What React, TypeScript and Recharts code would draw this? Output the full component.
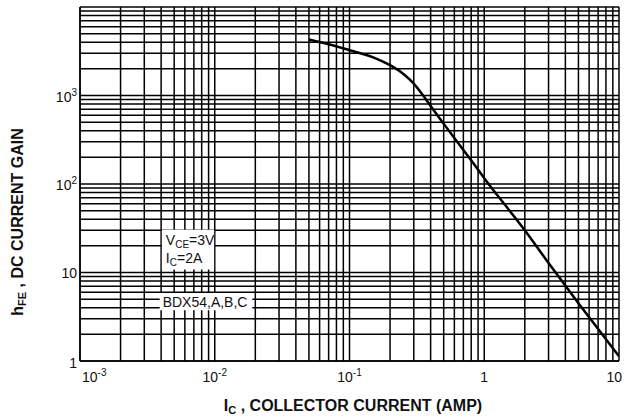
import React from "react";
import {
  LineChart,
  Line,
  XAxis,
  YAxis,
  CartesianGrid,
  ReferenceArea,
} from "recharts";

// Collector current (A) and DC current gain
const collectorCurrent = [0.05, 0.07, 0.1, 0.15, 0.2, 0.25, 0.3, 0.35, 0.4, 0.5, 0.6, 0.8, 1, 2, 3, 5, 10];
const dcGain = [4300, 3800, 3250, 2700, 2200, 1760, 1360, 1010, 760, 480, 330, 185, 116, 30, 12.8, 4.5, 1.13];

// Grid ticks (log paper): 1..9 per decade
const xTicks = [
  0.001, 0.002, 0.003, 0.004, 0.005, 0.006, 0.007, 0.008, 0.009,
  0.01, 0.02, 0.03, 0.04, 0.05, 0.06, 0.07, 0.08, 0.09,
  0.1, 0.2, 0.3, 0.4, 0.5, 0.6, 0.7, 0.8, 0.9,
  1, 2, 3, 4, 5, 6, 7, 8, 9, 10,
];
const yTicks = [
  1, 2, 3, 4, 5, 6, 7, 8, 9,
  10, 20, 30, 40, 50, 60, 70, 80, 90,
  100, 200, 300, 400, 500, 600, 700, 800, 900,
  1000, 2000, 3000, 4000, 5000, 6000, 7000, 8000, 9000, 10000,
];

// Labelled decades: [value, base, exponent]
const xTickLabels: [number, string, string][] = [
  [0.001, "10", "-3"],
  [0.01, "10", "-2"],
  [0.1, "10", "-1"],
  [1, "1", ""],
  [10, "10", ""],
];
const yTickLabels: [number, string, string][] = [
  [1, "1", ""],
  [10, "10", ""],
  [100, "10", "2"],
  [1000, "10", "3"],
];

// Annotation boxes (data coordinates)
const vceBox = { x1: 0.00405, x2: 0.0099, y1: 10.8, y2: 30.5 };
const partBox = { x1: 0.0039, x2: 0.019, y1: 3.75, y2: 5.85 };

const data = collectorCurrent.map((ic, i) => ({ ic, hfe: dcGain[i] }));

const FONT = "'Liberation Sans', Arial, Helvetica, sans-serif";

const near = (a: number, b: number) => Math.abs(a - b) / b < 1e-6;

const XTick = (props: any) => {
  const { x, y, payload } = props;
  const idx = xTickLabels.findIndex((t) => near(payload.value, t[0]));
  if (idx < 0) return null;
  const [, base, exp] = xTickLabels[idx];
  let anchor: "start" | "middle" | "end" = "middle";
  let dx = 0;
  if (idx === 0) {
    anchor = "start";
    dx = 2;
  } else if (idx === xTickLabels.length - 1) {
    anchor = "end";
    dx = 3;
  }
  return (
    <text
      x={x + dx}
      y={y + 21}
      textAnchor={anchor}
      fontFamily={FONT}
      fontSize={14}
      fill="#111"
    >
      <tspan>{base}</tspan>
      {exp && (
        <tspan dy={-6} fontSize={10}>
          {exp}
        </tspan>
      )}
    </text>
  );
};

const YTick = (props: any) => {
  const { x, y, payload } = props;
  const idx = yTickLabels.findIndex((t) => near(payload.value, t[0]));
  if (idx < 0) return null;
  const [, base, exp] = yTickLabels[idx];
  return (
    <text
      x={x - 3}
      y={y + (exp ? 6 : idx === 0 ? 6.5 : 5)}
      textAnchor="end"
      fontFamily={FONT}
      fontSize={14}
      fill="#111"
    >
      <tspan>{base}</tspan>
      {exp && (
        <tspan dy={-6} fontSize={10}>
          {exp}
        </tspan>
      )}
    </text>
  );
};

const VceLabel = (props: any) => {
  const vb = props.viewBox || {};
  const x = vb.x + 4;
  const y = vb.y;
  return (
    <g fontFamily={FONT} fill="#111">
      <text x={x} y={y + 15} fontSize={14}>
        <tspan>V</tspan>
        <tspan dy={3} fontSize={10}>CE</tspan>
        <tspan dy={-3}>=3V</tspan>
      </text>
      <text x={x} y={y + 33} fontSize={14}>
        <tspan>I</tspan>
        <tspan dy={3} fontSize={10}>C</tspan>
        <tspan dy={-3}>=2A</tspan>
      </text>
    </g>
  );
};

const PartLabel = (props: any) => {
  const vb = props.viewBox || {};
  return (
    <text x={vb.x + 3} y={vb.y + 14} fontFamily={FONT} fontSize={14} fill="#111">
      BDX54,A,B,C
    </text>
  );
};

export default function App() {
  return (
    <div style={{ position: "absolute", left: 0, top: 0, width: 632, height: 417, background: "#fff" }}>
      <LineChart
        width={632}
        height={417}
        data={data}
        margin={{ top: 7, right: 13, bottom: 0, left: 0 }}
      >
        <CartesianGrid stroke="#000" strokeWidth={1.5} />
        <XAxis
          dataKey="ic"
          type="number"
          scale="log"
          domain={[0.001, 10]}
          ticks={xTicks}
          interval={0}
          allowDataOverflow
          height={56}
          tickSize={0}
          tickMargin={0}
          tickLine={false}
          axisLine={{ stroke: "#000", strokeWidth: 1.5 }}
          tick={<XTick />}
        />
        <YAxis
          type="number"
          scale="log"
          domain={[1, 10000]}
          ticks={yTicks}
          interval={0}
          allowDataOverflow
          width={80}
          tickSize={0}
          tickMargin={0}
          tickLine={false}
          axisLine={{ stroke: "#000", strokeWidth: 1.5 }}
          tick={<YTick />}
        />
        <ReferenceArea
          x1={vceBox.x1}
          x2={vceBox.x2}
          y1={vceBox.y1}
          y2={vceBox.y2}
          fill="#fff"
          fillOpacity={1}
          stroke="none"
          ifOverflow="visible"
          label={<VceLabel />}
        />
        <ReferenceArea
          x1={partBox.x1}
          x2={partBox.x2}
          y1={partBox.y1}
          y2={partBox.y2}
          fill="#fff"
          fillOpacity={1}
          stroke="none"
          ifOverflow="visible"
          label={<PartLabel />}
        />
        <Line
          dataKey="hfe"
          type="monotone"
          stroke="#000"
          strokeWidth={2.5}
          dot={false}
          isAnimationActive={false}
        />
      </LineChart>
      <svg
        width={632}
        height={417}
        style={{ position: "absolute", left: 0, top: 0, pointerEvents: "none" }}
      >
        <text
          x={353}
          y={411}
          textAnchor="middle"
          fontFamily={FONT}
          fontWeight="bold"
          fontSize={16}
          fill="#111"
        >
          <tspan>I</tspan>
          <tspan dy={3} fontSize={11}>C</tspan>
          <tspan dy={-3}> , COLLECTOR CURRENT (AMP)</tspan>
        </text>
        <text
          x={0}
          y={0}
          transform="translate(23, 222) rotate(-90)"
          textAnchor="middle"
          fontFamily={FONT}
          fontWeight="bold"
          fontSize={16}
          fill="#111"
        >
          <tspan>h</tspan>
          <tspan dy={3} fontSize={11}>FE</tspan>
          <tspan dy={-3}> , DC CURRENT GAIN</tspan>
        </text>
      </svg>
    </div>
  );
}
